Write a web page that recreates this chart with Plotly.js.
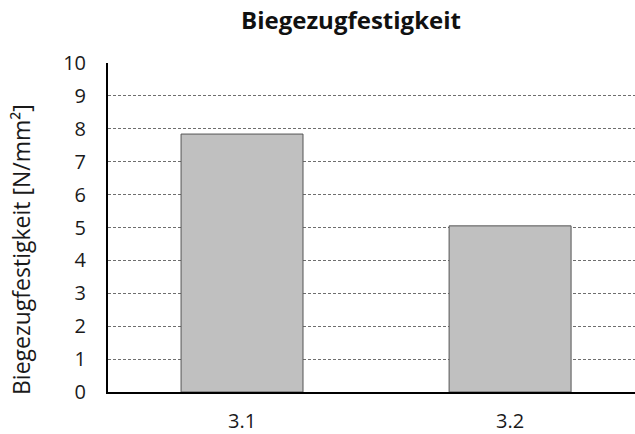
<!DOCTYPE html>
<html>
<head>
<meta charset="utf-8">
<script src="https://cdn.plot.ly/plotly-3.0.1.min.js"></script>
<style>html,body{margin:0;padding:0;background:#fff;}#chart{width:635px;height:434px;}</style>
</head>
<body>
<div id="chart"></div>
<script>
const categories = ["3.1", "3.2"];
const values = [7.84, 5.05];
const yTicks = [0,1,2,3,4,5,6,7,8,9,10];
const chartTitle = 'Biegezugfestigkeit';
const yTitle = 'Biegezugfestigkeit [N/mm²]';

const trace = {
  type: 'bar',
  x: [0, 1],
  y: values,
  width: 0.455,
  marker: {color: '#c0c0c0', line: {color: '#555555', width: 1}},
  hoverinfo: 'none'
};

const layout = {
  width: 635, height: 434,
  margin: {l: 108, r: 0, t: 63, b: 42},
  paper_bgcolor: '#ffffff', plot_bgcolor: '#ffffff',
  font: {family: '"Open Sans", sans-serif', color: '#1a1a1a', size: 20},
  title: {text: '<b>' + chartTitle + '</b>', x: 351/635, xref: 'container', y: 0.952, yref: 'container', xanchor: 'center', yanchor: 'middle',
          font: {size: 24, family: '"Open Sans", sans-serif', color: '#111111'}},
  showlegend: false,
  bargap: 0,
  xaxis: {
    range: [-0.5, 1.466],
    tickvals: [0, 1], ticktext: categories,
    showline: true, linecolor: '#000000', linewidth: 2,
    showgrid: false, zeroline: false, ticks: '',
    ticklabelstandoff: 10,
    tickfont: {size: 20}
  },
  yaxis: {
    range: [0, 10],
    tickvals: yTicks,
    showline: true, linecolor: '#000000', linewidth: 2,
    showgrid: true, gridcolor: '#6e6e6e', griddash: '3px,2px', gridwidth: 1,
    zeroline: false, ticks: '', ticklen: 0,
    ticklabelstandoff: 16,
    tickfont: {size: 20}
  },
  annotations: [{
    text: yTitle, textangle: -90, showarrow: false,
    xref: 'paper', yref: 'paper', x: (21 - 108) / 527, y: (392 - 250) / 329,
    xanchor: 'center', yanchor: 'middle',
    font: {size: 23, family: '"Open Sans", sans-serif', color: '#1a1a1a'}
  }]
};

Plotly.newPlot('chart', [trace], layout, {displayModeBar: false, staticPlot: true});
</script>
</body>
</html>
